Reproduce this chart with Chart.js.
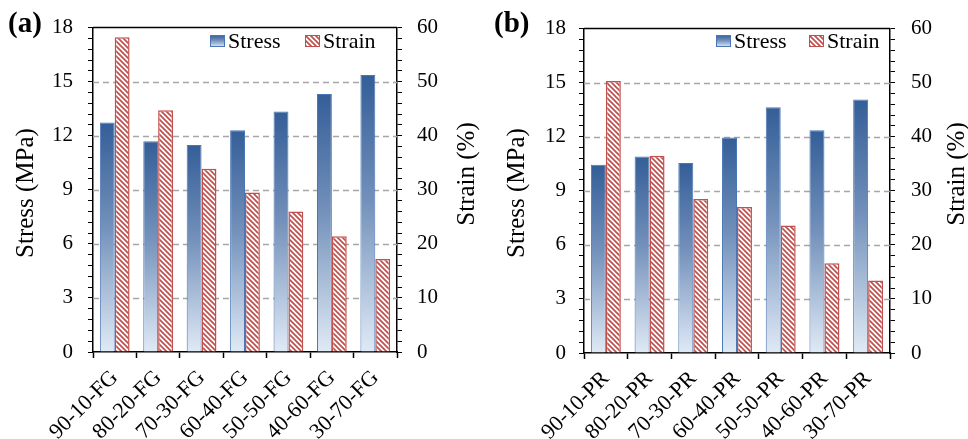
<!DOCTYPE html>
<html>
<head>
<meta charset="utf-8">
<script src="https://cdn.jsdelivr.net/npm/chart.js@4.4.1/dist/chart.umd.min.js"></script>
<style>
  html, body { margin: 0; padding: 0; background: #fff; }
  #wrap { position: relative; width: 968px; height: 439px; }
  .panel { position: absolute; top: 0; width: 484px; height: 439px; }
</style>
</head>
<body>
<div id="wrap">
  <div class="panel" style="left:0"><canvas id="chartA" width="484" height="439"></canvas></div>
  <div class="panel" style="left:484px"><canvas id="chartB" width="484" height="439"></canvas></div>
</div>
<script>
// --- data ---
const labelsFG = ["90-10-FG", "80-20-FG", "70-30-FG", "60-40-FG", "50-50-FG", "40-60-FG", "30-70-FG"];
const labelsPR = ["90-10-PR", "80-20-PR", "70-30-PR", "60-40-PR", "50-50-PR", "40-60-PR", "30-70-PR"];

const stressFG = [12.74, 11.69, 11.49, 12.31, 13.34, 14.31, 15.37];
const strainFG = [58.2, 44.7, 33.9, 29.5, 26.0, 21.4, 17.2];
const stressPR = [10.44, 10.9, 10.54, 11.96, 13.64, 12.36, 14.07];
const strainPR = [50.3, 36.5, 28.5, 27.0, 23.6, 16.6, 13.4];

const stressTicks = [0, 3, 6, 9, 12, 15, 18];
const strainTicks = [0, 10, 20, 30, 40, 50, 60];
const minorPerMajor = 5;

const FONT = "'Liberation Serif', 'Times New Roman', serif";
const RED = "#c0504d";

// --- fills ---
function makeHatch() {
    const n = 5;
    const c = document.createElement("canvas");
    c.width = n; c.height = n;
    const g = c.getContext("2d");
    g.fillStyle = "#fff";
    g.fillRect(0, 0, n, n);
    g.strokeStyle = RED;
    g.lineWidth = 1.7;
    g.beginPath();
    g.moveTo(-1, -1); g.lineTo(n + 1, n + 1);
    g.moveTo(-1, n - 1); g.lineTo(1, n + 1);
    g.moveTo(n - 1, -1); g.lineTo(n + 1, 1);
    g.stroke();
    return g.createPattern(c, "repeat");
}
const hatch = makeHatch();

function blueGradient(ctx, y0, y1) {
    const g = ctx.createLinearGradient(0, y0, 0, y1);
    g.addColorStop(0, "#345e98");
    g.addColorStop(0.45, "#7290ba");
    g.addColorStop(1, "#e0eaf6");
    return g;
}

function stressFill(c) {
    const chart = c.chart;
    if (!chart.chartArea || c.raw == null) return "#4f76a8";
    const y = chart.scales.y;
    return blueGradient(chart.ctx, y.getPixelForValue(c.raw), y.getPixelForValue(0));
}

// tick list with minor subdivisions between the labelled ones
function withMinor(major) {
    const out = [];
    for (let i = 0; i < major.length - 1; i++) {
        const step = (major[i + 1] - major[i]) / minorPerMajor;
        for (let k = 0; k < minorPerMajor; k++) out.push({ value: major[i] + k * step });
    }
    out.push({ value: major[major.length - 1] });
    return out;
}
function isMajor(list, v) {
    return list.some(m => Math.abs(m - v) < 1e-6);
}

// --- drawing extras: gridlines, frame, titles, legend, panel letter ---
const extras = {
    id: "extras",
    beforeDatasetsDraw(chart, args, o) {
        const { ctx, chartArea: a } = chart;
        const y = chart.scales.y;
        ctx.save();
        ctx.strokeStyle = "#a6a6a6";
        ctx.lineWidth = 1.3;
        ctx.setLineDash([6, 4]);
        stressTicks.slice(1, -1).forEach(v => {
            const py = Math.round(y.getPixelForValue(v)) + 0.5;
            ctx.beginPath();
            ctx.moveTo(a.left, py);
            ctx.lineTo(a.right, py);
            ctx.stroke();
        });
        ctx.restore();
    },
    afterDraw(chart, args, o) {
        const { ctx, chartArea: a } = chart;
        ctx.save();
        // top frame line
        ctx.strokeStyle = "#000";
        ctx.lineWidth = 1.5;
        ctx.beginPath();
        ctx.moveTo(a.left, a.top);
        ctx.lineTo(a.right, a.top);
        ctx.stroke();

        // panel letter
        ctx.fillStyle = "#000";
        ctx.font = "bold 29px " + FONT;
        ctx.textAlign = "left";
        ctx.textBaseline = "alphabetic";
        ctx.fillText(o.tag, o.tagX, 32);

        // axis titles (both read bottom-to-top)
        ctx.font = "25px " + FONT;
        ctx.textAlign = "center";
        ctx.textBaseline = "middle";
        o.titles.forEach(t => {
            ctx.save();
            ctx.translate(t.x, t.y);
            ctx.rotate(-Math.PI / 2);
            ctx.fillText(t.text, 0, 0);
            ctx.restore();
        });

        // legend
        ctx.font = "22px " + FONT;
        ctx.textAlign = "left";
        ctx.textBaseline = "alphabetic";
        chart.data.datasets.forEach((ds, i) => {
            const x = o.legendX[i], y0 = 35, w = 15, h = 12;
            ctx.fillStyle = i === 0 ? blueGradient(ctx, y0, y0 + h) : hatch;
            ctx.fillRect(x, y0, w, h);
            ctx.strokeStyle = i === 0 ? "#4a76b5" : RED;
            ctx.lineWidth = 1;
            ctx.strokeRect(x + 0.5, y0 + 0.5, w - 1, h - 1);
            ctx.fillStyle = "#000";
            ctx.fillText(ds.label, x + w + 3, 48);
        });
        ctx.restore();
    }
};

function makePanel(id, labels, stress, strain, cfg) {
    const a = cfg.area;
    return new Chart(document.getElementById(id), {
        type: "bar",
        data: {
            labels: labels,
            datasets: [
                {
                    label: "Stress",
                    data: stress,
                    yAxisID: "y",
                    backgroundColor: stressFill,
                    borderColor: "#4a76b5",
                    borderWidth: 1,
                    borderSkipped: "bottom"
                },
                {
                    label: "Strain",
                    data: strain,
                    yAxisID: "y1",
                    backgroundColor: hatch,
                    borderColor: RED,
                    borderWidth: 1.5,
                    borderSkipped: "bottom"
                }
            ]
        },
        options: {
            responsive: false,
            animation: false,
            devicePixelRatio: 1,
            categoryPercentage: 0.685,
            barPercentage: 1.0,
            layout: { padding: { left: 0, right: 0, top: a.top, bottom: 0 } },
            plugins: {
                legend: { display: false },
                tooltip: { enabled: false },
                extras: cfg.extras
            },
            scales: {
                x: {
                    afterFit: s => { s.height = 439 - a.bottom; },
                    grid: { offset: true, drawOnChartArea: false, drawTicks: true, tickLength: 6, tickColor: "#000", tickWidth: 1.5 },
                    border: { display: true, color: "#000", width: 1.5 },
                    ticks: {
                        autoSkip: false, minRotation: 45, maxRotation: 45, padding: 7,
                        color: "#000", font: { family: FONT, size: 22 }
                    }
                },
                y: {
                    position: "left",
                    min: 0, max: 18,
                    afterFit: s => { s.width = a.left; },
                    afterBuildTicks: s => { s.ticks = withMinor(stressTicks); },
                    grid: { drawOnChartArea: false, drawTicks: true, tickLength: 5, tickColor: "#000", tickWidth: 1 },
                    border: { display: true, color: "#000", width: 1.5 },
                    ticks: {
                        autoSkip: false, padding: cfg.padL, color: "#000",
                        font: { family: FONT, size: 21 },
                        callback: v => isMajor(stressTicks, v) ? String(Math.round(v)) : ""
                    }
                },
                y1: {
                    position: "right",
                    min: 0, max: 60,
                    afterFit: s => { s.width = 484 - a.right; },
                    afterBuildTicks: s => { s.ticks = withMinor(strainTicks); },
                    grid: { drawOnChartArea: false, drawTicks: true, tickLength: 5, tickColor: "#000", tickWidth: 1 },
                    border: { display: true, color: "#000", width: 1.5 },
                    ticks: {
                        autoSkip: false, padding: cfg.padR, color: "#000",
                        font: { family: FONT, size: 21 },
                        callback: v => isMajor(strainTicks, v) ? String(Math.round(v)) : ""
                    }
                }
            }
        },
        plugins: [extras]
    });
}

makePanel("chartA", labelsFG, stressFG, strainFG, {
    area: { left: 93, right: 397, top: 24, bottom: 352 },
    padL: 15, padR: 15,
    extras: {
        tag: "(a)", tagX: 8,
        legendX: [210, 305],
        titles: [
            { text: "Stress (MPa)", x: 26, y: 193 },
            { text: "Strain (%)", x: 467, y: 174 }
        ]
    }
});

makePanel("chartB", labelsPR, stressPR, strainPR, {
    area: { left: 100, right: 406, top: 24, bottom: 353 },
    padL: 13, padR: 16,
    extras: {
        tag: "(b)", tagX: 10,
        legendX: [232, 325],
        titles: [
            { text: "Stress (MPa)", x: 33, y: 193 },
            { text: "Strain (%)", x: 473, y: 174 }
        ]
    }
});
</script>
</body>
</html>
